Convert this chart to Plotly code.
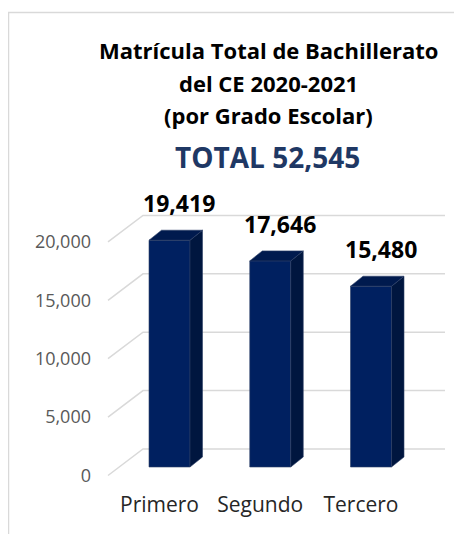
import plotly.graph_objects as go

# ---- data ----
categories = ["Primero", "Segundo", "Tercero"]
values = [19419, 17646, 15480]
value_labels = ["19,419", "17,646", "15,480"]
y_ticks = [0, 5000, 10000, 15000, 20000]
y_tick_labels = ["0", "5,000", "10,000", "15,000", "20,000"]
title_lines = ["Matrícula Total de Bachillerato", "del CE 2020-2021", "(por Grado Escolar)"]
total_text = "TOTAL 52,545"

# ---- geometry ----
# The page body has an 8px margin, so the figure is drawn 8px in from the window edge.
OFF = 8
W, H = 462 - OFF, 534 - OFF
PX_PER_CAT = 100.75
PX_PER_UNIT = 58.4 / 5000.0
X0_PIX = 169.5 - OFF          # figure pixel of category 0 centre (front face)
Y0_PIX = 467.0 - OFF          # figure pixel of value 0 (bar front)
plot_l, plot_r = 96 - OFF, 455 - OFF
plot_t, plot_b = 180 - OFF, 490 - OFF

def px2x(p):  # reference window pixel -> x data
    return (p - OFF - X0_PIX) / PX_PER_CAT

def px2y(p):
    return (Y0_PIX - (p - OFF)) / PX_PER_UNIT

x_range = [(plot_l - X0_PIX) / PX_PER_CAT, (plot_r - X0_PIX) / PX_PER_CAT]
y_range = [(Y0_PIX - plot_b) / PX_PER_UNIT, (Y0_PIX - plot_t) / PX_PER_UNIT]

bar_w = 41 / PX_PER_CAT
ddx = 12.5 / PX_PER_CAT
ddy = 10 / PX_PER_UNIT
floor_front_dy = -8.5 / PX_PER_UNIT
wall_dy = 18 / PX_PER_UNIT
grid_x_front = px2x(108)
grid_x_back = px2x(143)
grid_x_right = px2x(445)

xs = list(range(len(categories)))

fig = go.Figure()

# gridlines (3D walls), kept under the bars
for v in y_ticks:
    fig.add_shape(type="path", xref="x", yref="y", layer="below",
                  path=f"M {grid_x_front},{v + floor_front_dy} L {grid_x_back},{v + wall_dy} L {grid_x_right},{v + wall_dy}",
                  line=dict(color="#D9D9D9", width=1.5))

FRONT = "#002060"
SIDE = "#00163F"
TOP = "#001A4E"
EDGE = "#2E3F66"

# front faces
fig.add_trace(go.Bar(x=xs, y=values, width=bar_w, base=0,
                     marker=dict(color=FRONT, line=dict(color=EDGE, width=0.6)),
                     hoverinfo="skip", showlegend=False))

for xc, v in zip(xs, values):
    xl, xr = xc - bar_w / 2, xc + bar_w / 2
    fig.add_trace(go.Scatter(x=[xr, xr + ddx, xr + ddx, xr, xr],
                             y=[0, ddy, v + ddy, v, 0],
                             fill="toself", fillcolor=SIDE, mode="lines",
                             line=dict(color=EDGE, width=0.6),
                             hoverinfo="skip", showlegend=False))
    fig.add_trace(go.Scatter(x=[xl, xl + ddx, xr + ddx, xr, xl],
                             y=[v, v + ddy, v + ddy, v, v],
                             fill="toself", fillcolor=TOP, mode="lines",
                             line=dict(color=EDGE, width=0.6),
                             hoverinfo="skip", showlegend=False))

# data labels
for xc, v, t in zip(xs, values, value_labels):
    fig.add_annotation(x=xc + 9.5 / PX_PER_CAT, y=v, text="<b>" + t + "</b>", showarrow=False,
                       yshift=37, font=dict(family="Open Sans", size=23, color="#000000"),
                       xanchor="center", yanchor="middle")

# titles (reference pixel positions -> paper coords)
def paper_x(p):
    return (p - OFF - plot_l) / (plot_r - plot_l)

def paper_y(p):
    return (plot_b - (p - OFF)) / (plot_b - plot_t)

for line, py in zip(title_lines, [50, 83, 115]):
    fig.add_annotation(xref="paper", yref="paper", x=paper_x(268.5), y=paper_y(py),
                       text="<b>" + line + "</b>", showarrow=False,
                       xanchor="center", yanchor="middle",
                       font=dict(family="Open Sans", size=22, color="#000000"))
fig.add_annotation(xref="paper", yref="paper", x=paper_x(267), y=paper_y(157),
                   text="<b>" + total_text + "</b>", showarrow=False,
                   xanchor="center", yanchor="middle",
                   font=dict(family="Open Sans", size=28, color="#1F3864"))

# chart border
fig.add_shape(type="rect", xref="paper", yref="paper",
              x0=paper_x(8.5), x1=paper_x(460.5), y0=paper_y(560), y1=paper_y(12.5),
              line=dict(color="#D9D9D9", width=1.5), fillcolor="rgba(0,0,0,0)", layer="below")

fig.update_layout(
    width=W, height=H,
    margin=dict(l=plot_l, r=W - plot_r, t=plot_t, b=H - plot_b, autoexpand=False),
    paper_bgcolor="white", plot_bgcolor="white",
    showlegend=False,
    xaxis=dict(range=x_range, tickvals=[x - 10 / PX_PER_CAT for x in xs], ticktext=categories,
               showgrid=False, zeroline=False, showline=False, ticks="",
               tickfont=dict(family="Open Sans", size=21, color="#262626")),
    yaxis=dict(range=y_range, tickvals=[v + floor_front_dy for v in y_ticks], ticktext=y_tick_labels,
               showgrid=False, zeroline=False, showline=False, ticks="", ticklabelstandoff=4,
               tickfont=dict(family="Open Sans", size=18, color="#595959")),
)

fig.write_html("out.html")
